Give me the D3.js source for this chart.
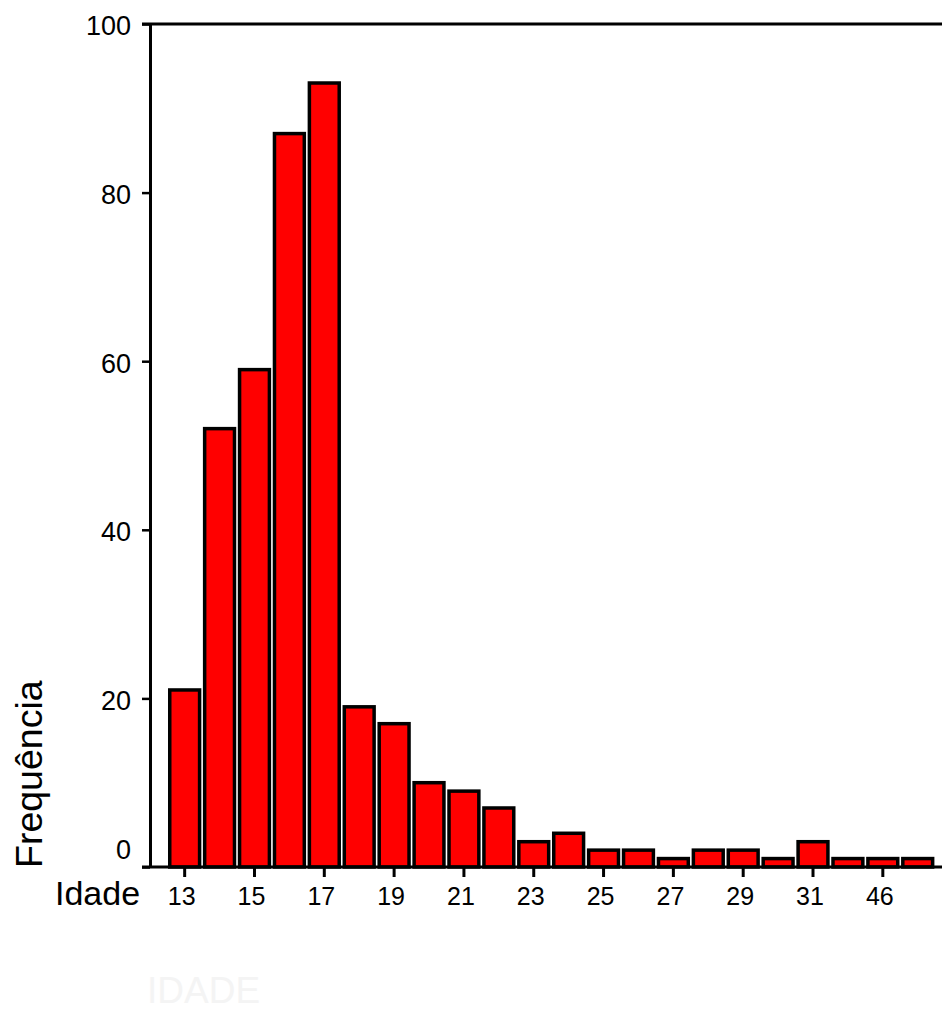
<!DOCTYPE html>
<html>
<head>
<meta charset="utf-8">
<script src="https://cdn.jsdelivr.net/npm/d3@7"></script>
<style>
  body { margin: 0; background: #fff; }
  text { font-family: "Liberation Sans", Arial, sans-serif; fill: #000; }
</style>
</head>
<body>
<div id="area"></div>
<script>
'use strict';

// age categories (the two unlabeled ones are hidden under every-other labeling)
const ages = ['13', '14', '15', '16', '17', '18', '19', '20', '21', '22', '23',
              '24', '25', '26', '27', '28', '29', '30', '31', '33', '46', '48'];
const counts = [21, 52, 59, 87, 93, 19, 17, 10, 9, 7, 3,
                4, 2, 2, 1, 2, 2, 1, 3, 1, 1, 1];
const xTickLabels = ['13', '15', '17', '19', '21', '23', '25', '27', '29', '31', '46'];
const yTicks = [0, 20, 40, 60, 80, 100];

const W = 942, H = 1010;
const svg = d3.select('#area').append('svg').attr('width', W).attr('height', H);

const x = d3.scaleBand().domain(ages).range([167.3, 935.1])
  .paddingInner(0.045).paddingOuter(0.02);
const y = d3.scaleLinear().domain([0, 100]).range([867, 24]);

// bars
svg.append('g').selectAll('rect').data(ages).join('rect')
  .attr('x', d => x(d) + 1.75)
  .attr('y', (d, i) => y(counts[i]))
  .attr('width', x.bandwidth() - 3.5)
  .attr('height', (d, i) => y(0) - y(counts[i]))
  .attr('fill', '#ff0000')
  .attr('stroke', '#000')
  .attr('stroke-width', 3.5);

// y axis
const yAxis = svg.append('g').attr('transform', 'translate(150,0)')
  .call(d3.axisLeft(y).tickValues(yTicks).tickSize(8).tickSizeOuter(0).tickPadding(11));
yAxis.select('.domain').attr('stroke-width', 3);
yAxis.selectAll('.tick line').attr('stroke-width', 2.5);
yAxis.selectAll('.tick text')
  .attr('font-size', 27)
  .attr('font-family', '"Liberation Sans", Arial, sans-serif')
  .attr('dy', d => d === 0 ? '-0.3em' : '0.4em');

// top frame line and baseline
svg.append('line').attr('x1', 142).attr('x2', W).attr('y1', y(100)).attr('y2', y(100))
  .attr('stroke', '#000').attr('stroke-width', 3);
svg.append('line').attr('x1', 142).attr('x2', W).attr('y1', y(0)).attr('y2', y(0))
  .attr('stroke', '#000').attr('stroke-width', 3);

// x axis
const xAxis = svg.append('g').attr('transform', 'translate(0,' + y(0) + ')')
  .call(d3.axisBottom(x).tickValues(xTickLabels).tickSize(10).tickSizeOuter(0).tickPadding(10));
xAxis.select('.domain').remove();
xAxis.selectAll('.tick line').attr('stroke-width', 3);
xAxis.selectAll('.tick text')
  .attr('font-size', 25)
  .attr('font-family', '"Liberation Sans", Arial, sans-serif')
  .attr('dx', -3);

// axis titles
svg.append('text').attr('x', 55).attr('y', 905)
  .attr('font-size', 34).text('Idade');
svg.append('text').attr('transform', 'translate(42,868) rotate(-90)')
  .attr('font-size', 37.5).text('Frequência');

// faint variable name under the chart
svg.append('text').attr('x', 147).attr('y', 1003)
  .attr('font-size', 37).style('fill', '#f4f4f4').text('IDADE');
</script>
</body>
</html>
